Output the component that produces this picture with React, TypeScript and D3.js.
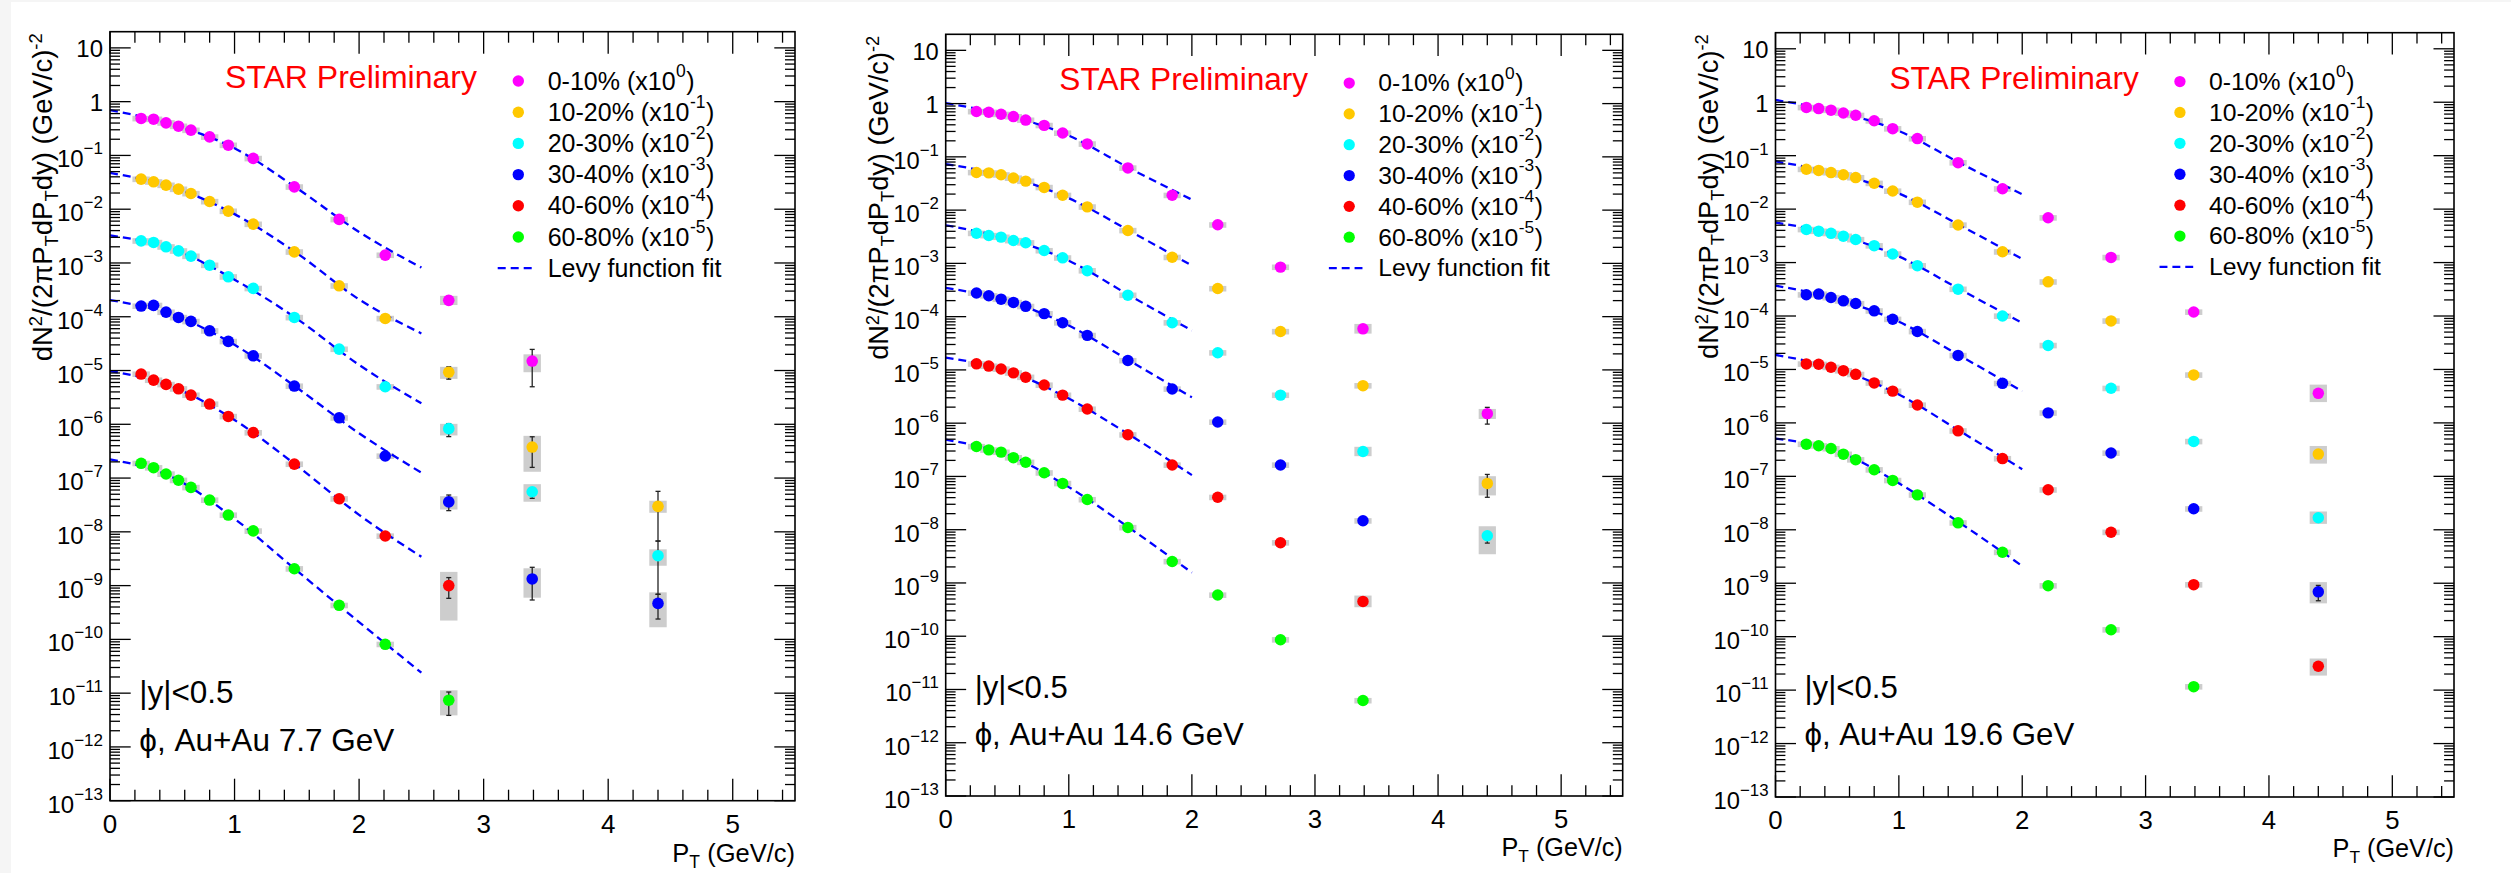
import React from "react";
import * as d3 from "d3";

// ---------------- data ----------------
const PT_BINS = [0.25, 0.35, 0.45, 0.55, 0.65, 0.8, 0.95, 1.15, 1.48, 1.84, 2.21, 2.72, 3.39, 4.4];
const CENTRALITY = ["0-10%", "10-20%", "20-30%", "30-40%", "40-60%", "60-80%"];
const SCALE_POW = ["0", "-1", "-2", "-3", "-4", "-5"];
const COLORS = ["#ff00ff", "#ffc800", "#00ffff", "#0000ff", "#ff0000", "#00ff00"];
const ENERGIES = ["7.7", "14.6", "19.6"];
const Y_EXPONENTS = [-13, -12, -11, -10, -9, -8, -7, -6, -5, -4, -3, -2, -1, 0, 1];
const X_TICKS = [0, 1, 2, 3, 4, 5];

// Au+Au 7.7 GeV
const Y77_C0 = [0.487, 0.472, 0.404, 0.35, 0.295, 0.221, 0.155, 0.088, 0.026, 6.46e-3, 1.4e-3, 2.02e-4, 1.5e-5, null];
const Y77_C1 = [0.0362, 0.0323, 0.028, 0.0236, 0.0196, 0.0139, 9.2e-3, 5.27e-3, 1.61e-3, 3.76e-4, 9.3e-5, 9.3e-6, 3.77e-7, 2.98e-8];
const Y77_C2 = [2.58e-3, 2.41e-3, 2.0e-3, 1.68e-3, 1.34e-3, 9.1e-4, 5.53e-4, 3.37e-4, 9.7e-5, 2.5e-5, 4.99e-6, 8.3e-7, 5.57e-8, 3.6e-9];
const Y77_C3 = [1.58e-4, 1.63e-4, 1.22e-4, 9.7e-5, 8.2e-5, 5.48e-5, 3.48e-5, 1.88e-5, 5.14e-6, 1.32e-6, 2.57e-7, 3.6e-8, 1.33e-9, 4.67e-10];
const Y77_C4 = [8.6e-6, 6.64e-6, 5.52e-6, 4.57e-6, 3.49e-6, 2.38e-6, 1.4e-6, 7.0e-7, 1.82e-7, 4.12e-8, 8.36e-9, 1.0e-9, null, null];
const Y77_C5 = [1.88e-7, 1.56e-7, 1.19e-7, 9.1e-8, 6.7e-8, 3.9e-8, 2.05e-8, 1.04e-8, 2.06e-9, 4.3e-10, 8.1e-11, 7.4e-12, null, null];

// Au+Au 14.6 GeV
const Y146_C0 = [0.71, 0.69, 0.63, 0.57, 0.49, 0.39, 0.28, 0.175, 0.062, 0.019, 5.3e-3, 8.5e-4, 5.9e-5, 1.51e-6];
const Y146_C1 = [0.051, 0.05, 0.046, 0.04, 0.035, 0.0267, 0.019, 0.0115, 4.15e-3, 1.3e-3, 3.37e-4, 5.26e-5, 5.06e-6, 7.4e-8];
const Y146_C2 = [3.68e-3, 3.34e-3, 3.11e-3, 2.69e-3, 2.44e-3, 1.74e-3, 1.27e-3, 7.3e-4, 2.53e-4, 7.7e-5, 2.1e-5, 3.36e-6, 2.94e-7, 7.7e-9];
const Y146_C3 = [2.78e-4, 2.47e-4, 2.13e-4, 1.85e-4, 1.56e-4, 1.14e-4, 7.7e-5, 4.45e-5, 1.5e-5, 4.39e-6, 1.05e-6, 1.64e-7, 1.47e-8, null];
const Y146_C4 = [1.3e-5, 1.18e-5, 1.04e-5, 8.8e-6, 7.3e-6, 5.2e-6, 3.36e-6, 1.84e-6, 6.05e-7, 1.64e-7, 4.06e-8, 5.7e-9, 4.5e-10, null];
const Y146_C5 = [3.65e-7, 3.15e-7, 2.86e-7, 2.25e-7, 1.85e-7, 1.17e-7, 7.4e-8, 3.68e-8, 1.1e-8, 2.53e-9, 5.94e-10, 8.6e-11, 6.2e-12, null];

// Au+Au 19.6 GeV
const Y196_C0 = [0.8, 0.76, 0.71, 0.63, 0.57, 0.45, 0.32, 0.209, 0.074, 0.024, 6.9e-3, 1.25e-3, 1.19e-4, 3.57e-6];
const Y196_C1 = [0.0557, 0.053, 0.0483, 0.0439, 0.0389, 0.0305, 0.0218, 0.0135, 5.05e-3, 1.59e-3, 4.36e-4, 8.1e-5, 7.9e-6, 2.61e-7];
const Y196_C2 = [4.17e-3, 3.87e-3, 3.52e-3, 3.12e-3, 2.7e-3, 2.07e-3, 1.45e-3, 8.75e-4, 3.18e-4, 1.0e-4, 2.82e-5, 4.44e-6, 4.5e-7, 1.68e-8];
const Y196_C3 = [2.5e-4, 2.57e-4, 2.22e-4, 1.92e-4, 1.71e-4, 1.25e-4, 8.7e-5, 5.14e-5, 1.83e-5, 5.5e-6, 1.54e-6, 2.73e-7, 2.47e-8, 6.9e-10];
const Y196_C4 = [1.27e-5, 1.25e-5, 1.1e-5, 9.5e-6, 8.1e-6, 5.6e-6, 3.93e-6, 2.16e-6, 7.1e-7, 2.15e-7, 5.6e-8, 9.0e-9, 9.4e-10, 2.8e-11];
const Y196_C5 = [4.0e-7, 3.73e-7, 3.31e-7, 2.6e-7, 2.05e-7, 1.33e-7, 8.4e-8, 4.5e-8, 1.35e-8, 3.8e-9, 9.0e-10, 1.35e-10, 1.16e-11, null];

// Levy fit curves
const FIT_PT_77 = [0, 0.5, 1.0, 1.5, 2.0, 2.5];
const FIT77_C0 = [0.695, 0.376, 0.136, 0.0247, 3.77e-3, 8.2e-4];
const FIT77_C1 = [0.0474, 0.0257, 8.1e-3, 1.52e-3, 2.1e-4, 4.9e-5];
const FIT77_C2 = [3.25e-3, 1.83e-3, 4.9e-4, 9.2e-5, 1.27e-5, 2.45e-6];
const FIT77_C3 = [2.04e-4, 1.09e-4, 3.0e-5, 4.8e-6, 6.8e-7, 1.26e-7];
const FIT77_C4 = [9.8e-6, 5.0e-6, 1.2e-6, 1.7e-7, 2.07e-8, 3.44e-9];
const FIT77_C5 = [2.23e-7, 1.04e-7, 1.75e-8, 1.9e-9, 2.1e-10, 2.4e-11];

const FIT_PT_B = [0, 0.5, 1.0, 1.5, 2.0];
const FIT146_C0 = [1.02, 0.6, 0.25, 0.06, 0.0157];
const FIT146_C1 = [0.073, 0.043, 0.0167, 4.0e-3, 9.1e-4];
const FIT146_C2 = [5.2e-3, 2.9e-3, 1.12e-3, 2.45e-4, 5.5e-5];
const FIT146_C3 = [3.46e-4, 1.99e-4, 6.8e-5, 1.45e-5, 3.05e-6];
const FIT146_C4 = [1.7e-5, 9.6e-6, 2.9e-6, 5.9e-7, 1.06e-7];
const FIT146_C5 = [4.9e-7, 2.55e-7, 6.3e-8, 1.05e-8, 1.56e-9];

const FIT196_C0 = [1.1, 0.66, 0.29, 0.072, 0.0189];
const FIT196_C1 = [0.078, 0.046, 0.0196, 4.9e-3, 1.17e-3];
const FIT196_C2 = [5.6e-3, 3.3e-3, 1.3e-3, 3.1e-4, 7.4e-5];
const FIT196_C3 = [3.7e-4, 2.06e-4, 7.8e-5, 1.78e-5, 3.9e-6];
const FIT196_C4 = [1.87e-5, 1.02e-5, 3.4e-6, 6.9e-7, 1.36e-7];
const FIT196_C5 = [5.1e-7, 2.95e-7, 7.4e-8, 1.32e-8, 2.1e-9];

// visible uncertainties: [series, ptIndex, statLow, statHigh, sysLow, sysHigh]
const ERR77 = [
  [0, 11, 1.7e-4, 2.4e-4, 1.65e-4, 2.45e-4],
  [1, 11, 6.9e-6, 1.17e-5, 7.0e-6, 1.17e-5],
  [2, 11, 5.9e-7, 1.03e-6, 6.2e-7, 1.02e-6],
  [3, 11, 2.48e-8, 4.84e-8, 2.6e-8, 4.6e-8],
  [4, 11, 5.8e-10, 1.41e-9, 2.24e-10, 1.8e-9],
  [5, 11, 3.86e-12, 1.05e-11, 3.86e-12, 1.13e-11],
  [0, 12, 4.99e-6, 2.47e-5, 9.3e-6, 2.0e-5],
  [1, 12, 1.58e-7, 5.86e-7, 1.31e-7, 6.1e-7],
  [2, 12, 4.2e-8, 6.6e-8, 3.63e-8, 7.7e-8],
  [3, 12, 5.4e-10, 2.19e-9, 5.96e-10, 2.1e-9],
  [1, 13, 6.74e-9, 5.66e-8, 2.26e-8, 3.79e-8],
  [2, 13, 6.9e-10, 6.74e-9, 2.34e-9, 4.73e-9],
  [3, 13, 2.39e-10, 6.9e-10, 1.68e-10, 7.5e-10],
];
const ERR146 = [
  [0, 13, 9.6e-7, 1.98e-6, 1.2e-6, 1.85e-6],
  [1, 13, 4.06e-8, 1.09e-7, 4.4e-8, 1.01e-7],
  [2, 13, 5.6e-9, 9.1e-9, 3.46e-9, 1.16e-8],
  [0, 12, 5.6e-5, 6.2e-5, 4.8e-5, 7.3e-5],
  [2, 12, 2.8e-7, 3.1e-7, 2.4e-7, 3.6e-7],
  [4, 12, 4.2e-10, 4.8e-10, 3.5e-10, 5.8e-10],
];
const ERR196 = [
  [0, 13, 3.2e-6, 4.0e-6, 2.45e-6, 5.2e-6],
  [1, 13, 2.3e-7, 2.95e-7, 1.73e-7, 3.7e-7],
  [2, 13, 1.5e-8, 1.9e-8, 1.29e-8, 2.2e-8],
  [3, 13, 4.7e-10, 9.1e-10, 4.2e-10, 1.05e-9],
  [4, 13, 2.5e-11, 3.1e-11, 1.87e-11, 3.9e-11],
];

// ---------------- layout / style ----------------
const FONT = "'Liberation Sans', Arial, Helvetica, sans-serif";
const BASE_W = 685;
const DEFAULT_SYS = 0.12;
const SYS_HALF_PT = 0.07;

const PANELS = [
  { x0: 110, x1: 795, y0: 31.7, y1: 800.7, values: [Y77_C0, Y77_C1, Y77_C2, Y77_C3, Y77_C4, Y77_C5], fitPt: FIT_PT_77, fits: [FIT77_C0, FIT77_C1, FIT77_C2, FIT77_C3, FIT77_C4, FIT77_C5], errs: ERR77, energy: ENERGIES[0] },
  { x0: 945.7, x1: 1622.7, y0: 34.3, y1: 796, values: [Y146_C0, Y146_C1, Y146_C2, Y146_C3, Y146_C4, Y146_C5], fitPt: FIT_PT_B, fits: [FIT146_C0, FIT146_C1, FIT146_C2, FIT146_C3, FIT146_C4, FIT146_C5], errs: ERR146, energy: ENERGIES[1] },
  { x0: 1775.5, x1: 2454, y0: 32.7, y1: 797, values: [Y196_C0, Y196_C1, Y196_C2, Y196_C3, Y196_C4, Y196_C5], fitPt: FIT_PT_B, fits: [FIT196_C0, FIT196_C1, FIT196_C2, FIT196_C3, FIT196_C4, FIT196_C5], errs: ERR196, energy: ENERGIES[2] },
];

function Panel({ p }: { p: any }) {
  const k = (p.x1 - p.x0) / BASE_W;
  const x = d3.scaleLinear().domain([0, 5.5]).range([p.x0, p.x1]);
  const y = d3.scaleLog().domain([1e-13, 20]).range([p.y1, p.y0]);

  const xMinor = d3.range(0, 5.5, 0.2).filter((v) => Math.abs(v - Math.round(v)) > 1e-6);
  const yMinor: number[] = [];
  for (let e = -13; e <= 1; e++) {
    for (let m = 2; m <= 9; m++) {
      const v = m * Math.pow(10, e);
      if (v < 20) yMinor.push(v);
    }
  }

  const line = d3
    .line<[number, number]>()
    .x((d) => x(d[0]))
    .y((d) => y(d[1]))
    .curve(d3.curveMonotoneX);

  const errMap = new Map<string, number[]>();
  p.errs.forEach((e: number[]) => errMap.set(`${e[0]}-${e[1]}`, e));

  const tickStroke = 1.3;
  const supDy = 13 * k;

  return (
    <g fontFamily={FONT}>
      {/* sys boxes */}
      {p.values.map((vals: (number | null)[], s: number) =>
        vals.map((v, i) => {
          if (v == null) return null;
          const e = errMap.get(`${s}-${i}`);
          const lo = e ? e[4] : v * (1 - DEFAULT_SYS);
          const hi = e ? e[5] : v * (1 + DEFAULT_SYS);
          const pt = PT_BINS[i];
          return (
            <rect
              key={`b${s}-${i}`}
              x={x(pt - SYS_HALF_PT)}
              y={y(hi)}
              width={x(pt + SYS_HALF_PT) - x(pt - SYS_HALF_PT)}
              height={y(lo) - y(hi)}
              fill="#cdcdcd"
            />
          );
        })
      )}
      {/* fit curves */}
      {p.fits.map((f: number[], s: number) => (
        <path
          key={`f${s}`}
          d={line(f.map((v, i) => [p.fitPt[i], v]) as [number, number][]) || ""}
          fill="none"
          stroke="#0000ff"
          strokeWidth={2.3 * k}
          strokeDasharray={`${8 * k},${5 * k}`}
        />
      ))}
      {/* stat errors */}
      {p.errs.map((e: number[], j: number) => {
        const px = x(PT_BINS[e[1]]);
        const yl = y(e[2]);
        const yh = y(e[3]);
        return (
          <g key={`e${j}`} stroke="#222" strokeWidth={1.3}>
            <line x1={px} x2={px} y1={yl} y2={yh} />
            <line x1={px - 2.5 * k} x2={px + 2.5 * k} y1={yl} y2={yl} />
            <line x1={px - 2.5 * k} x2={px + 2.5 * k} y1={yh} y2={yh} />
          </g>
        );
      })}
      {/* markers */}
      {p.values.map((vals: (number | null)[], s: number) =>
        vals.map((v, i) =>
          v == null ? null : (
            <circle key={`m${s}-${i}`} cx={x(PT_BINS[i])} cy={y(v)} r={5.8 * k} fill={COLORS[s]} />
          )
        )
      )}

      {/* frame */}
      <rect x={p.x0} y={p.y0} width={p.x1 - p.x0} height={p.y1 - p.y0} fill="none" stroke="#000" strokeWidth={1.6} />
      {/* ticks */}
      <g stroke="#000" strokeWidth={tickStroke}>
        {X_TICKS.map((t) => (
          <g key={`xt${t}`}>
            <line x1={x(t)} x2={x(t)} y1={p.y1} y2={p.y1 - 22 * k} />
            <line x1={x(t)} x2={x(t)} y1={p.y0} y2={p.y0 + 22 * k} />
          </g>
        ))}
        {xMinor.map((t) => (
          <g key={`xm${t}`}>
            <line x1={x(t)} x2={x(t)} y1={p.y1} y2={p.y1 - 11 * k} />
            <line x1={x(t)} x2={x(t)} y1={p.y0} y2={p.y0 + 11 * k} />
          </g>
        ))}
        {Y_EXPONENTS.map((e) => (
          <g key={`yt${e}`}>
            <line x1={p.x0} x2={p.x0 + 20.7 * k} y1={y(Math.pow(10, e))} y2={y(Math.pow(10, e))} />
            <line x1={p.x1} x2={p.x1 - 20.7 * k} y1={y(Math.pow(10, e))} y2={y(Math.pow(10, e))} />
          </g>
        ))}
        {yMinor.map((v, i) => (
          <g key={`ym${i}`}>
            <line x1={p.x0} x2={p.x0 + 10 * k} y1={y(v)} y2={y(v)} />
            <line x1={p.x1} x2={p.x1 - 10 * k} y1={y(v)} y2={y(v)} />
          </g>
        ))}
      </g>
      {/* x tick labels */}
      {X_TICKS.map((t) => (
        <text key={`xl${t}`} x={x(t)} y={p.y1 + 32 * k} textAnchor="middle" fontSize={26 * k} fill="#000">
          {t}
        </text>
      ))}
      {/* y tick labels */}
      {Y_EXPONENTS.map((e) => {
        const ty = y(Math.pow(10, e));
        if (e === 1 || e === 0) {
          return (
            <text key={`yl${e}`} x={p.x0 - 7 * k} y={ty + 9.6 * k} textAnchor="end" fontSize={24 * k} fill="#000">
              {e === 1 ? "10" : "1"}
            </text>
          );
        }
        return (
          <text key={`yl${e}`} x={p.x0 - 7 * k} y={ty + 12 * k} textAnchor="end" fontSize={24 * k} fill="#000">
            10
            <tspan dy={-supDy} fontSize={17 * k}>
              {"\u2212" + Math.abs(e)}
            </tspan>
          </text>
        );
      })}
      {/* axis titles */}
      <text x={p.x1} y={p.y1 + 61 * k} textAnchor="end" fontSize={25.5 * k} fill="#000">
        P
        <tspan dy={6 * k} fontSize={17.5 * k}>
          T
        </tspan>
        <tspan dy={-6 * k}> (GeV/c)</tspan>
      </text>
      <text
        transform={`translate(${p.x0 - 58 * k},${p.y0 + 1.5 * k}) rotate(-90)`}
        textAnchor="end"
        fontSize={27.5 * k}
        fill="#000"
      >
        dN
        <tspan dy={-10 * k} fontSize={18.5 * k}>
          2
        </tspan>
        <tspan dy={10 * k}>/(2πP</tspan>
        <tspan dy={6 * k} fontSize={18.5 * k}>
          T
        </tspan>
        <tspan dy={-6 * k}>dP</tspan>
        <tspan dy={6 * k} fontSize={18.5 * k}>
          T
        </tspan>
        <tspan dy={-6 * k}>dy) (GeV/c)</tspan>
        <tspan dy={-10 * k} fontSize={18.5 * k}>
          -2
        </tspan>
      </text>
      {/* STAR Preliminary */}
      <text x={p.x0 + 115 * k} y={p.y0 + 56.6 * k} fontSize={32 * k} fill="#ff0000">
        STAR Preliminary
      </text>
      {/* legend */}
      {CENTRALITY.map((c, i) => {
        const ry = p.y0 + (49.3 + i * 31.2) * k;
        return (
          <g key={`lg${i}`}>
            <circle cx={p.x0 + 408.3 * k} cy={ry} r={5.7 * k} fill={COLORS[i]} />
            <text x={p.x0 + 437.7 * k} y={ry + 8.5 * k} fontSize={25 * k} fill="#000">
              {`${c} (x10`}
              <tspan dy={-13 * k} dx={0.5 * k} fontSize={17.5 * k}>
                {SCALE_POW[i]}
              </tspan>
              <tspan dy={13 * k} dx={0.5 * k}>)</tspan>
            </text>
          </g>
        );
      })}
      {(() => {
        const ry = p.y0 + (49.3 + 6 * 31.2) * k;
        return (
          <g>
            <line
              x1={p.x0 + 387.7 * k}
              x2={p.x0 + 426 * k}
              y1={ry}
              y2={ry}
              stroke="#0000ff"
              strokeWidth={2.3 * k}
              strokeDasharray={`${8 * k},${5 * k}`}
            />
            <text x={p.x0 + 437.7 * k} y={ry + 8.5 * k} fontSize={25 * k} fill="#000">
              Levy function fit
            </text>
          </g>
        );
      })()}
      {/* annotations */}
      <text x={p.x0 + 29.3 * k} y={p.y0 + 671.6 * k} fontSize={31.5 * k} fill="#000">
        |y|&lt;0.5
      </text>
      <text x={p.x0 + 29.3 * k} y={p.y0 + 719.3 * k} fontSize={31.5 * k} fill="#000">
        {`\u03D5, Au+Au ${p.energy} GeV`}
      </text>
    </g>
  );
}

export default function App() {
  return (
    <svg
      width={2511}
      height={873}
      style={{ position: "absolute", left: 0, top: 0, display: "block" }}
      xmlns="http://www.w3.org/2000/svg"
    >
      <rect x={0} y={0} width={2511} height={873} fill="#f5f5f5" />
      <rect x={11} y={2} width={2500} height={871} fill="#ffffff" />
      {PANELS.map((p, i) => (
        <Panel key={i} p={p} />
      ))}
    </svg>
  );
}
